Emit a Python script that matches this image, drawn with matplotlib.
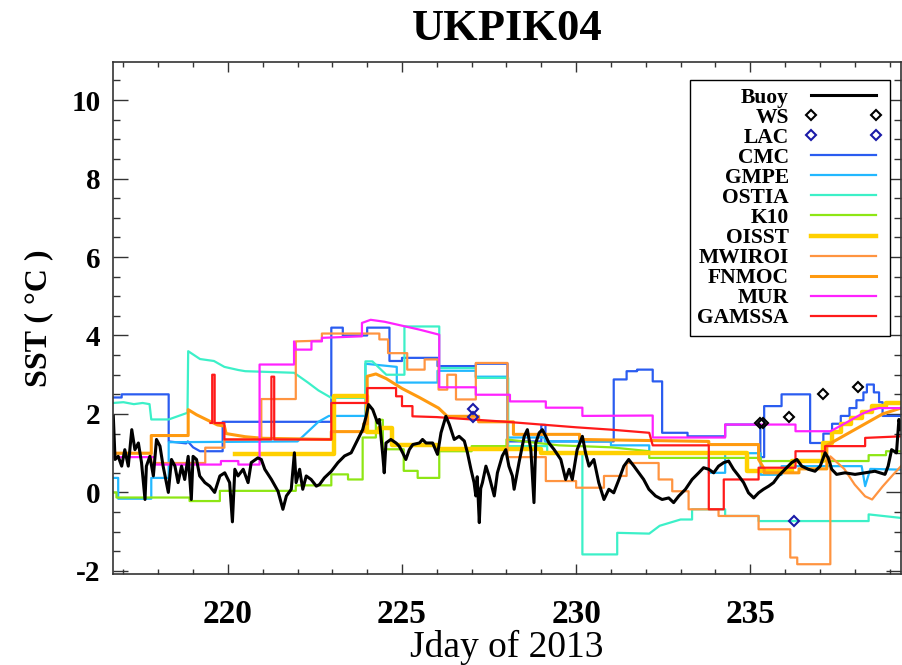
import numpy as np
import matplotlib
matplotlib.use("Agg")
import matplotlib.pyplot as plt
import matplotlib.ticker as ticker

plt.rcParams["font.family"] = ["Liberation Serif", "DejaVu Serif"]
plt.rcParams["axes.unicode_minus"] = False

# ── data (day of year, SST in deg C) ──────────────────────────────────────
BUOY_DAY = [216.71, 216.76, 216.85, 216.95, 217.04, 217.14, 217.24, 217.33, 217.43, 217.52,
            217.62, 217.66, 217.76, 217.86, 217.95, 218.05, 218.14, 218.29, 218.38, 218.48,
            218.57, 218.67, 218.76, 218.86, 218.95, 219.00, 219.10, 219.19, 219.34, 219.48,
            219.62, 219.77, 219.91, 220.05, 220.13, 220.20, 220.29, 220.44, 220.58, 220.67,
            220.86, 220.96, 221.06, 221.25, 221.44, 221.53, 221.58, 221.68, 221.82, 221.91,
            221.96, 222.06, 222.15, 222.25, 222.39, 222.54, 222.63, 222.77, 222.97, 223.16,
            223.35, 223.54, 223.73, 223.87, 223.97, 224.04, 224.16, 224.30, 224.35, 224.45,
            224.49, 224.54, 224.68, 224.83, 224.92, 225.02, 225.11, 225.21, 225.31, 225.50,
            225.59, 225.69, 225.88, 226.02, 226.12, 226.26, 226.36, 226.50, 226.64, 226.79,
            226.88, 226.98, 227.07, 227.12, 227.16, 227.22, 227.26, 227.31, 227.41, 227.50,
            227.65, 227.74, 227.88, 227.98, 228.07, 228.17, 228.22, 228.36, 228.51, 228.60,
            228.70, 228.79, 228.84, 228.94, 229.03, 229.13, 229.22, 229.37, 229.56, 229.70,
            229.80, 229.89, 230.03, 230.18, 230.27, 230.37, 230.51, 230.65, 230.80, 230.94,
            231.08, 231.23, 231.37, 231.51, 231.66, 231.80, 231.94, 232.09, 232.28, 232.47,
            232.66, 232.80, 232.95, 233.14, 233.33, 233.52, 233.66, 233.81, 233.95, 234.09,
            234.24, 234.38, 234.52, 234.67, 234.81, 234.95, 235.10, 235.24, 235.38, 235.53,
            235.67, 235.81, 236.00, 236.19, 236.34, 236.48, 236.67, 236.86, 237.01, 237.15,
            237.24, 237.34, 237.48, 237.72, 238.01, 238.30, 238.58, 238.87, 238.96, 239.06,
            239.20, 239.27, 239.33]
BUOY_SST = [1.94, 0.84, 0.92, 0.67, 1.09, 0.67, 1.60, 1.09, 1.26, 0.76,
            -0.18, 0.67, 0.92, 0.42, 1.35, 1.18, 0.67, 0.00, 0.84, 0.67,
            0.25, 0.67, 0.33, 0.92, -0.18, 0.92, 0.84, 0.42, 0.25, 0.16,
            0.00, 0.42, 0.50, 0.25, -0.75, 0.59, 0.42, 0.59, 0.25, 0.76,
            0.88, 0.84, 0.59, 0.33, 0.03, -0.26, -0.43, -0.09, 0.08, 1.01,
            0.25, 0.59, 0.08, 0.42, 0.33, 0.16, 0.20, 0.37, 0.54, 0.76,
            0.93, 1.01, 1.35, 1.60, 1.94, 2.24, 2.11, 1.77, 1.86, 0.93,
            0.50, 1.26, 1.35, 1.26, 1.18, 1.01, 0.84, 1.09, 1.22, 1.26,
            1.35, 1.26, 1.26, 0.97, 1.52, 1.94, 1.73, 1.35, 1.43, 1.31,
            1.01, 0.59, 0.25, -0.09, 0.40, -0.77, 0.10, 0.25, 0.67, 0.42,
            -0.09, 0.50, 0.93, 1.09, 0.67, 0.42, 0.08, 0.76, 1.43, 1.60,
            1.09, -0.26, 1.26, 1.52, 1.60, 1.43, 1.26, 1.09, 0.84, 0.33,
            0.59, 0.33, 1.09, 1.43, 1.01, 0.67, 0.84, 0.25, -0.18, 0.08,
            -0.01, 0.33, 0.67, 0.84, 0.67, 0.50, 0.33, 0.08, -0.09, -0.18,
            -0.14, -0.26, -0.09, 0.08, 0.33, 0.50, 0.63, 0.59, 0.50, 0.67,
            0.76, 0.80, 0.59, 0.42, 0.25, -0.01, -0.14, -0.01, 0.08, 0.16,
            0.25, 0.42, 0.59, 0.76, 0.84, 0.67, 0.59, 0.54, 0.67, 1.01,
            0.88, 0.59, 0.46, 0.50, 0.46, 0.50, 0.54, 0.46, 0.67, 1.09,
            1.01, 1.86, 1.60]

WS_DAY = [235.28, 235.36, 236.10, 237.10, 238.10]
WS_SST = [1.76, 1.76, 1.93, 2.52, 2.68]
LAC_DAY = [227.05, 227.05, 236.27]
LAC_SST = [2.12, 1.92, -0.72]

CMC_DAY = [216.70, 216.95, 216.95, 218.30, 218.30, 218.80, 218.85, 219.00, 219.20, 219.85,
           219.85, 222.97, 222.97, 223.30, 223.30, 224.00, 224.00, 224.64, 224.64, 225.00,
           225.00, 226.02, 226.02, 227.12, 227.12, 228.03, 228.03, 229.00, 229.00, 229.12,
           229.12, 231.08, 231.08, 231.45, 231.45, 231.75, 231.75, 232.20, 232.20, 232.47,
           232.47, 233.20, 233.20, 234.28, 234.28, 235.29, 235.29, 235.40, 235.40, 235.90,
           235.90, 236.72, 236.72, 237.10, 237.10, 237.35, 237.35, 237.60, 237.60, 237.85,
           237.85, 238.05, 238.05, 238.25, 238.25, 238.35, 238.35, 238.55, 238.55, 238.70,
           238.70, 238.80, 238.80, 239.33]
CMC_SST = [2.42, 2.42, 2.50, 2.50, 1.30, 1.25, 1.30, 1.15, 1.05, 1.05,
           1.80, 1.80, 4.20, 4.20, 4.00, 4.00, 4.20, 4.20, 3.35, 3.35,
           3.43, 3.43, 3.22, 3.22, 3.28, 3.28, 1.30, 1.30, 1.72, 1.72,
           1.30, 1.30, 2.88, 2.88, 3.09, 3.09, 3.13, 3.13, 2.83, 2.83,
           1.52, 1.52, 1.43, 1.43, 1.73, 1.73, 0.90, 0.90, 2.20, 2.20,
           2.50, 2.50, 1.26, 1.26, 1.50, 1.50, 1.75, 1.75, 1.95, 1.95,
           2.15, 2.15, 2.35, 2.35, 2.55, 2.55, 2.75, 2.75, 2.55, 2.55,
           2.30, 2.30, 1.95, 1.95]

GMPE_DAY = [216.70, 216.85, 216.85, 217.80, 217.80, 218.30, 218.30, 222.00, 222.30, 222.60,
            222.90, 223.95, 223.95, 224.85, 224.85, 226.02, 226.02, 227.12, 227.12, 228.03,
            228.03, 229.10, 229.10, 231.00, 231.00, 232.10, 232.10, 233.81, 233.81, 234.28,
            234.28, 235.30, 235.30, 235.90, 235.90, 238.20, 238.30, 238.45, 239.33]
GMPE_SST = [0.37, 0.37, -0.16, -0.16, 0.37, 0.37, 1.28, 1.30, 1.55, 1.80,
            1.95, 1.95, 3.28, 3.20, 2.80, 2.80, 3.10, 3.10, 2.95, 2.95,
            1.40, 1.40, 1.30, 1.30, 1.20, 1.20, 1.00, 1.00, 0.50, 0.50,
            1.00, 1.00, 0.45, 0.45, 0.67, 0.67, 0.16, 0.60, 0.58]

OSTIA_DAY = [216.70, 217.00, 217.30, 217.55, 217.75, 217.80, 218.30, 218.84, 218.86, 219.20,
             219.60, 219.90, 220.30, 220.50, 221.90, 222.30, 222.60, 222.97, 223.95, 223.95,
             224.15, 224.55, 225.07, 225.07, 226.07, 226.07, 227.12, 227.12, 228.05, 228.05,
             229.17, 229.17, 230.18, 230.18, 231.18, 231.18, 232.10, 232.40, 233.00, 233.33,
             233.33, 234.28, 234.28, 235.24, 235.24, 238.40, 238.40, 239.33]
OSTIA_SST = [2.28, 2.30, 2.25, 2.28, 2.25, 1.86, 1.86, 2.03, 3.60, 3.40,
             3.35, 3.20, 3.12, 3.09, 3.05, 2.80, 2.60, 2.41, 2.41, 3.34,
             3.34, 3.00, 3.00, 4.23, 4.23, 3.17, 3.17, 2.92, 2.92, 1.18,
             1.18, 1.00, 1.00, -1.58, -1.58, -1.03, -1.05, -0.85, -0.69, -0.69,
             -0.43, -0.43, -0.60, -0.60, -0.73, -0.73, -0.56, -0.65]

K10_DAY = [216.70, 216.80, 216.80, 218.90, 218.90, 219.77, 219.77, 221.95, 221.95, 222.97,
           222.97, 223.45, 223.45, 223.87, 223.87, 224.25, 224.25, 224.45, 224.45, 225.05,
           225.05, 225.45, 225.45, 226.07, 226.07, 227.00, 227.00, 228.00, 228.00, 228.50,
           229.50, 231.00, 232.10, 232.10, 235.30, 235.30, 238.40, 238.40, 238.90, 238.90,
           239.33]
K10_SST = [0.00, 0.00, -0.13, -0.13, -0.22, -0.22, 0.04, 0.04, 0.18, 0.18,
           0.46, 0.46, 0.33, 0.33, 1.40, 1.40, 1.85, 1.85, 1.10, 1.10,
           0.55, 0.55, 0.37, 0.37, 1.05, 1.05, 1.18, 1.18, 1.35, 1.30,
           1.20, 1.15, 1.05, 0.88, 0.88, 0.80, 0.80, 0.95, 0.95, 1.05,
           1.05]

OISST_DAY = [220.20, 223.06, 223.06, 224.00, 224.00, 224.35, 224.35, 224.70, 224.70, 226.00,
             226.00, 229.00, 229.00, 234.90, 234.90, 236.20, 236.20, 237.10, 237.10, 237.35,
             237.35, 237.60, 237.60, 237.90, 237.90, 238.20, 238.20, 238.50, 238.50, 238.90,
             238.90, 239.33]
OISST_SST = [0.98, 0.98, 2.45, 2.45, 1.55, 1.55, 1.65, 1.65, 1.20, 1.20,
             1.10, 1.10, 1.00, 1.00, 0.55, 0.55, 0.80, 0.80, 1.26, 1.26,
             1.55, 1.55, 1.75, 1.75, 1.90, 1.90, 2.05, 2.05, 2.20, 2.20,
             2.28, 2.28]

MWIROI_DAY = [216.70, 217.80, 217.80, 219.35, 219.35, 219.90, 219.90, 220.96, 220.96, 221.95,
              221.95, 222.70, 222.70, 224.35, 224.35, 224.60, 224.60, 225.15, 225.15, 225.65,
              225.65, 226.05, 226.05, 226.30, 226.30, 226.55, 226.55, 227.12, 227.12, 228.03,
              228.03, 229.13, 229.13, 230.00, 230.00, 230.80, 230.80, 231.45, 231.45, 232.37,
              232.37, 232.76, 232.76, 233.23, 233.23, 234.09, 234.09, 235.24, 235.24, 236.15,
              236.15, 236.35, 236.35, 237.30, 237.30, 237.70, 238.00, 238.30, 238.50, 238.80,
              239.10, 239.33]
MWIROI_SST = [1.00, 1.00, 0.75, 0.75, 1.14, 1.14, 1.35, 1.35, 2.38, 2.38,
              3.85, 3.87, 4.05, 4.05, 3.90, 3.90, 3.55, 3.55, 3.13, 3.13,
              3.39, 3.39, 2.62, 2.62, 3.00, 3.00, 2.37, 2.37, 3.30, 3.30,
              0.90, 0.90, 0.29, 0.29, 0.12, 0.12, 0.42, 0.42, 0.75, 0.75,
              0.33, 0.33, 0.03, 0.03, -0.43, -0.43, -0.60, -0.60, -0.94, -0.94,
              -1.66, -1.66, -1.83, -1.83, 0.92, 0.60, 0.20, -0.10, -0.18, 0.15,
              0.45, 0.67]

FNMOC_DAY = [216.70, 217.80, 217.80, 218.86, 218.86, 219.10, 219.40, 219.70, 219.90, 219.95,
             220.50, 221.00, 222.97, 222.97, 223.90, 223.90, 224.00, 224.00, 224.25, 224.55,
             225.00, 225.50, 226.05, 226.30, 227.20, 227.20, 228.20, 228.20, 230.10, 230.10,
             233.81, 233.81, 235.24, 235.24, 235.40, 235.40, 236.40, 236.40, 237.20, 237.20,
             237.60, 238.00, 238.40, 238.80, 239.33]
FNMOC_SST = [1.00, 1.00, 1.45, 1.45, 2.11, 1.98, 1.85, 1.72, 1.69, 1.50,
             1.42, 1.38, 1.35, 1.55, 1.55, 1.75, 1.75, 2.96, 3.02, 2.90,
             2.65, 2.42, 2.15, 1.94, 1.94, 1.80, 1.80, 1.48, 1.48, 1.35,
             1.30, 1.22, 1.22, 0.84, 0.60, 0.50, 0.50, 0.60, 0.60, 1.20,
             1.40, 1.60, 1.80, 2.00, 2.15]

MUR_DAY = [216.70, 217.90, 217.90, 219.80, 219.80, 220.30, 220.30, 220.91, 220.91, 221.90,
           221.90, 221.95, 222.40, 222.40, 222.70, 222.70, 223.85, 223.85, 224.10, 224.50,
           225.00, 225.50, 226.07, 226.07, 227.12, 227.12, 228.10, 228.10, 229.13, 229.13,
           230.18, 230.18, 232.20, 232.20, 234.28, 234.28, 236.30, 236.30, 237.30, 237.60,
           237.90, 238.20, 238.50, 238.70, 239.33]
MUR_SST = [0.90, 0.90, 0.71, 0.71, 0.80, 0.80, 0.71, 0.71, 3.26, 3.26,
           3.85, 3.64, 3.64, 3.85, 3.85, 3.94, 3.98, 4.32, 4.40, 4.35,
           4.25, 4.15, 4.02, 2.68, 2.68, 2.49, 2.49, 2.32, 2.32, 2.16,
           2.16, 1.95, 1.96, 1.40, 1.40, 1.73, 1.73, 1.56, 1.56, 1.70,
           1.85, 2.00, 2.11, 2.15, 2.15]

GAMSSA_DAY = [219.50, 219.55, 219.55, 219.62, 219.62, 219.90, 219.90, 221.25, 221.25, 221.33,
              221.33, 222.97, 222.97, 224.00, 224.00, 224.83, 224.83, 225.00, 225.00, 225.30,
              225.30, 226.00, 228.00, 229.00, 230.00, 231.00, 232.10, 232.20, 233.81, 233.81,
              234.24, 234.24, 235.24, 235.24, 236.30, 236.30, 237.15, 237.15, 238.30, 238.30,
              239.33]
GAMSSA_SST = [1.77, 1.77, 3.00, 3.00, 1.77, 1.77, 1.35, 1.35, 2.95, 2.95,
              1.35, 1.35, 2.28, 2.28, 2.66, 2.66, 2.45, 2.45, 2.20, 2.20,
              1.94, 1.92, 1.80, 1.73, 1.66, 1.60, 1.52, 1.20, 1.20, -0.43,
              -0.43, 0.33, 0.33, 0.63, 0.63, 1.05, 1.05, 1.18, 1.18, 1.39,
              1.43]

MODELS = [
    ("CMC", CMC_DAY, CMC_SST, "#2a5cf0", 1.6),
    ("GMPE", GMPE_DAY, GMPE_SST, "#22b8ff", 1.6),
    ("OSTIA", OSTIA_DAY, OSTIA_SST, "#3cf0c8", 1.6),
    ("K10", K10_DAY, K10_SST, "#8ee614", 1.6),
    ("OISST", OISST_DAY, OISST_SST, "#ffd000", 3.2),
    ("MWIROI", MWIROI_DAY, MWIROI_SST, "#ff9440", 1.6),
    ("FNMOC", FNMOC_DAY, FNMOC_SST, "#ff9a10", 2.2),
    ("MUR", MUR_DAY, MUR_SST, "#ff22ff", 1.6),
    ("GAMSSA", GAMSSA_DAY, GAMSSA_SST, "#ff1a1a", 1.6),
]

fig = plt.figure(figsize=(9.03, 6.65), dpi=100)
ax = fig.add_axes([0.1251, 0.1368, 0.8727, 0.7699])

model_handles = []
for name, d, v, col, lw in MODELS:
    h, = ax.plot(d, v, color=col, linewidth=lw, label=name)
    model_handles.append(h)

hb, = ax.plot(BUOY_DAY, BUOY_SST, color="black", linewidth=2.2, label="Buoy")
hw, = ax.plot(WS_DAY, WS_SST, linestyle="none", marker="D", markersize=5,
              markerfacecolor="none", markeredgecolor="black", markeredgewidth=1.5, label="WS")
hl, = ax.plot(LAC_DAY, LAC_SST, linestyle="none", marker="D", markersize=5,
              markerfacecolor="none", markeredgecolor="#1a1aa8", markeredgewidth=1.5, label="LAC")

ax.set_xlim(216.7, 239.33)
ax.set_ylim(-2.08, 10.97)
ax.xaxis.set_major_locator(ticker.MultipleLocator(5))
ax.xaxis.set_minor_locator(ticker.MultipleLocator(1))
ax.yaxis.set_major_locator(ticker.MultipleLocator(2))
ax.yaxis.set_minor_locator(ticker.MultipleLocator(0.5))
ax.tick_params(axis="both", which="both", direction="in", top=True, right=True, color="#333333")
ax.tick_params(axis="y", which="major", length=11, width=1.0, labelsize=21, pad=9)
ax.tick_params(axis="y", which="minor", length=5, width=1.0)
ax.tick_params(axis="x", which="major", length=7, width=1.0, labelsize=24, pad=18)
ax.tick_params(axis="x", which="minor", length=3.6, width=1.0)
for lab in ax.get_xticklabels() + ax.get_yticklabels():
    lab.set_fontweight("bold")
for sp in ax.spines.values():
    sp.set_linewidth(1.2)
    sp.set_color("#333333")

ax.set_ylabel("SST ( °C )", fontsize=23, fontweight="bold", labelpad=13)
ax.set_xlabel("Jday of 2013", fontsize=27, labelpad=0)
fig.text(0.5615, 0.956, "UKPIK04", ha="center", va="center", fontsize=32, fontweight="bold")

leg = ax.legend([hb, hw, hl] + model_handles,
                ["Buoy", "WS", "LAC"] + [m[0] for m in MODELS],
                loc="upper right", bbox_to_anchor=(0.986, 0.965), borderaxespad=0,
                markerfirst=False, numpoints=2, handlelength=3.6, handletextpad=0.75,
                labelspacing=0.0, borderpad=0.35, fancybox=False, framealpha=1,
                edgecolor="black", prop={"family": "Liberation Serif", "weight": "bold", "size": 15.5})
leg.get_frame().set_linewidth(1.0)

fig.savefig("out.png", dpi=100)
